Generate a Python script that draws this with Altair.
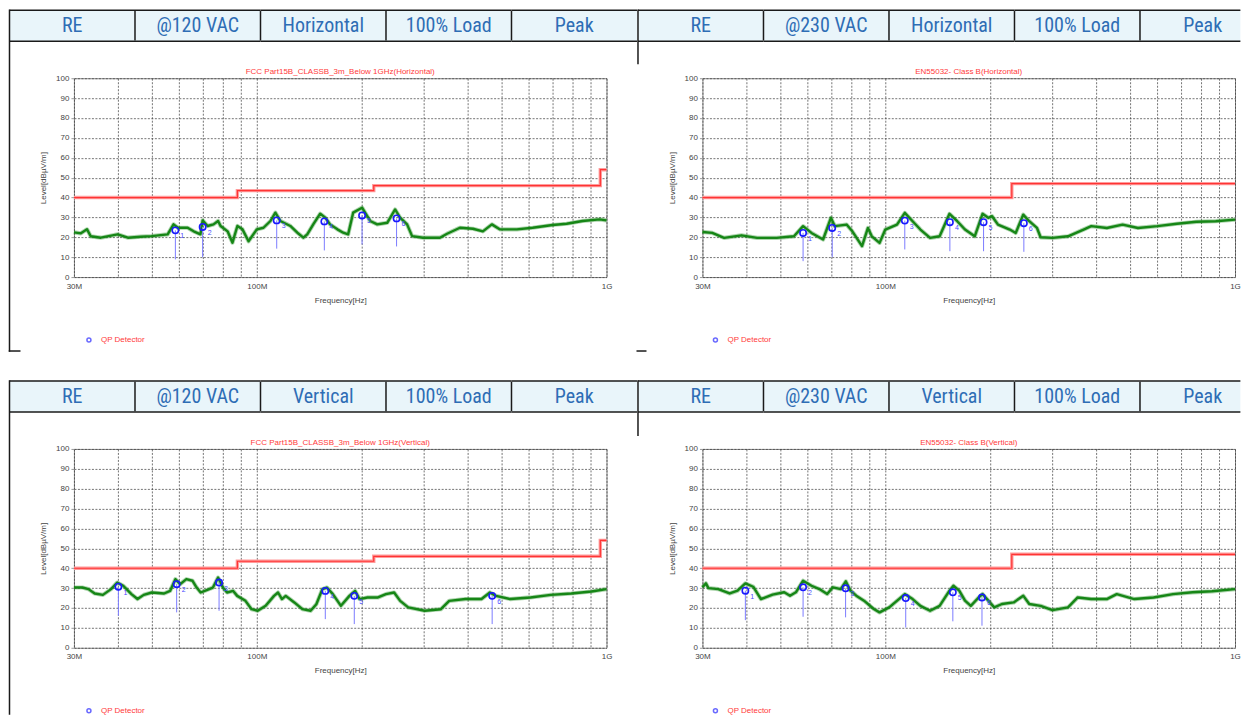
import altair as alt
import pandas as pd

# ---------------- text content ----------------
HDR_TL = ["RE", "@120 VAC", "Horizontal", "100% Load", "Peak"]
HDR_TR = ["RE", "@230 VAC", "Horizontal", "100% Load", "Peak"]
HDR_BL = ["RE", "@120 VAC", "Vertical", "100% Load", "Peak"]
HDR_BR = ["RE", "@230 VAC", "Vertical", "100% Load", "Peak"]

TITLE_TL = "FCC Part15B_CLASSB_3m_Below 1GHz(Horizontal)"
TITLE_TR = "EN55032- Class B(Horizontal)"
TITLE_BL = "FCC Part15B_CLASSB_3m_Below 1GHz(Vertical)"
TITLE_BR = "EN55032- Class B(Vertical)"

LEGEND_TEXT = "QP Detector"
X_TITLE = "Frequency[Hz]"
Y_TITLE = "Level[dBµV/m]"

X_TICKS = [30, 40, 50, 60, 70, 80, 90, 100, 200, 300, 400, 500, 600, 700, 800, 900, 1000]
Y_TICKS = [0, 10, 20, 30, 40, 50, 60, 70, 80, 90, 100]

# ---------------- limit lines (MHz, dBuV/m) ----------------
FCC_LIM_F = [30, 88, 216, 960, 1000]
FCC_LIM_L = [40, 43.5, 46, 54, 54]
EN_LIM_F = [30, 230, 1000]
EN_LIM_L = [40, 47, 47]

# ---------------- measured traces ----------------
TL_F = [30, 31.4, 32.7, 33.5, 35.8, 40, 42.8, 46.6, 50, 55.6, 57.8, 59.5, 63.4, 66, 69, 70, 72.3, 75.2,
        77.5, 78.8, 82.5, 85.2, 88, 91, 94.7, 100, 104.5, 109.4, 113, 116.8, 124.7, 130.6, 135.9, 139.4,
        145, 151.8, 157, 162, 170, 176.7, 182.5, 188.6, 200, 204, 211, 221, 236, 248.6, 256.8, 269, 278,
        298.7, 334, 350, 381, 415, 443, 470, 495, 554, 615, 701, 769, 854, 955, 1000]
TL_L = [22.5, 22, 24, 20.5, 19.8, 21.5, 19.8, 20.3, 20.6, 21.5, 26.5, 24.8, 24.8, 23, 21.5, 28.5, 25.7, 26.5,
        28.2, 25.7, 23, 17.3, 25.7, 24, 18, 24, 24.8, 28.2, 32.4, 28.2, 25.7, 22.3, 19.8, 21.5,
        26.5, 31.9, 29.9, 26.5, 24, 22.3, 21.5, 32.4, 34.9, 32.4, 28.2, 26.5, 27.3, 34, 29.9, 26.5, 20.6,
        19.8, 19.8, 21.8, 24.8, 24.3, 23, 26.5, 24, 24, 24.8, 26.2, 26.8, 28.2, 29, 28.5]

TR_F = [30, 32, 34.6, 38.8, 43, 48.9, 54.8, 58.2, 61.5, 66.4, 69.9, 71.7, 77.5, 80.5, 85.8, 89.2, 91.5, 96.3,
        100, 108, 113.7, 119.7, 126, 134.3, 143, 152.6, 160.6, 169, 180.2, 189.7, 197, 202, 210, 227, 236,
        248, 258, 271.5, 278, 300.7, 333, 369, 388, 430, 477, 528, 600, 682, 775, 881, 1000]
TR_L = [22.7, 22.2, 19.7, 21, 19.7, 19.7, 20.5, 25.6, 22.2, 18.9, 29.8, 25.6, 26.4, 23, 15.6, 24.7, 20.5, 17.2,
        23.9, 26.4, 32.3, 28.1, 23.9, 19.7, 20.5, 31.8, 28.1, 23.9, 20.5, 31.8, 29.8, 30.6, 26.4, 23.9, 22.2,
        31.4, 28.1, 24.7, 20, 19.7, 20.5, 23.9, 25.6, 24.7, 26.4, 24.7, 25.6, 26.8, 27.8, 28.1, 28.9]

BL_F = [30, 31.7, 33, 34.4, 36.3, 38.3, 39.9, 41.5, 43.8, 45.6, 47.5, 50.1, 54.3, 56.5, 58.5, 60.4, 62.9, 65.5,
        67.3, 69.1, 71.9, 74.9, 77.5, 80, 82.2, 85.6, 87.9, 92.8, 96.6, 100.6, 106, 112, 115, 118, 121, 128,
        135, 142.5, 148, 154, 158.6, 165, 174, 184, 191, 196.6, 207, 222, 234, 247, 257, 271, 302, 336, 355,
        395, 439, 464, 483, 530, 606, 693, 793, 906, 1000]
BL_L = [30.3, 30.3, 29.5, 27.3, 26.6, 29.5, 32.8, 31.2, 27, 24.5, 26.6, 27.8, 27.3, 28.6, 34.5, 32, 34.5, 33.7,
        30.3, 27.8, 29, 30.3, 35.3, 30.3, 27.8, 28.6, 26.1, 23.6, 19.4, 18.6, 21.1, 26.1, 27.8, 24.5, 26.1, 22.8,
        19.4, 18.6, 21.9, 29.5, 30.3, 27, 21.1, 26.1, 28.6, 24.5, 25.3, 25.3, 27, 27.8, 23.6, 20.3, 18.6, 19.4, 23.6,
        24.5, 24.5, 27.8, 26.1, 24.5, 25.3, 26.6, 27.3, 28.3, 29.5]

BR_F = [30, 30.7, 31.2, 33.3, 35.9, 37.8, 39.8, 41.9, 44.1, 47.6, 51.4, 53.4, 55.5, 58.2, 61.5, 64.8, 68.2, 70.8,
        74.6, 77.1, 79.5, 82.6, 86.9, 92.7, 96.3, 102.6, 109.4, 113.7, 119.7, 126, 134.3, 143, 152.6, 156.6,
        162.7, 169, 175.6, 184.9, 189.7, 197, 204.9, 215.6, 232.9, 248, 258, 278, 300.7, 333, 355, 388, 430,
        459, 515, 585, 665, 756, 859, 1000]
BR_L = [30.4, 32.4, 30, 29.5, 27.3, 28.7, 32.4, 30.7, 24.5, 26.7, 27.9, 26.2, 27.9, 33.7, 31.2, 29.5, 27, 30.4,
        29.5, 33.4, 28.7, 26.2, 23.7, 19.5, 17.8, 20.3, 24.5, 27, 24.5, 21.1, 18.6, 21.1, 28.7, 31.2,
        28.7, 23.7, 21.1, 25.3, 27, 23.7, 20.3, 22, 22.8, 26.2, 22, 21.1, 18.9, 20.3, 25.3, 24.5, 24.5,
        27, 24.5, 25.3, 27, 27.9, 28.4, 29.5]

# ---------------- QP detector markers ----------------
TL_MK_F = [58.5, 70, 114, 156, 200, 251]
TL_MK_L = [23.5, 25.2, 28.5, 28, 31, 29.5]
TL_MK_LOW = [8.9, 10, 14.3, 13.4, 16.4, 15.4]

TR_MK_F = [58.2, 70.5, 113.7, 153, 191, 249]
TR_MK_L = [22.2, 24.7, 28.4, 27.6, 27.6, 27.1]
TR_MK_LOW = [8, 10, 13.9, 13, 13, 12.7]

BL_MK_F = [40.2, 59, 78, 157, 190, 471]
BL_MK_L = [30.7, 32, 32.8, 28.6, 26.1, 26.1]
BL_MK_LOW = [16.1, 17.8, 18.6, 14.4, 11.9, 11.9]

BR_MK_F = [39.8, 58.2, 77, 114.4, 156, 189]
BR_MK_L = [28.7, 30.4, 29.9, 25, 27.9, 25.3]
BR_MK_LOW = [13.9, 15.6, 15.3, 10.2, 13.3, 11.1]

# ---------------- layout / style ----------------
W, H = 533, 199
HX0 = -64.5        # header left edge relative to plot area
CELL = 125.6       # header cell width
HY0, HY1 = -68, -37
LW = 1.5           # border line width
HDR_FILL = "#E9F5FA"
HDR_TEXT = "#2E6DB5"
HDR_FONT = "Liberation Sans Narrow, Roboto Condensed, Roboto"
LINE = "#1a1a1a"
GREEN = "#168616"
FONT = "Liberation Sans"

dummy = pd.DataFrame({"a": [0]})


def vbar(xc, y1, y2):
    # thin vertical border drawn as a filled rect (exact bounds)
    return alt.Chart(dummy).mark_rect(fill=LINE, strokeWidth=0).encode(
        x=alt.value(xc - LW / 2), x2=alt.value(xc + LW / 2), y=alt.value(y1), y2=alt.value(y2))


def hbar(yc, x1, x2):
    return alt.Chart(dummy).mark_rect(fill=LINE, strokeWidth=0).encode(
        x=alt.value(x1), x2=alt.value(x2), y=alt.value(yc - LW / 2), y2=alt.value(yc + LW / 2))


def quadrant(hdr, title, tf, tl, lf, ll, mf, ml, mlow, right_clip, decor, legend_x):
    # header table (the right-hand table runs off the page edge, so its scale is clamped there)
    cells = pd.DataFrame({"u": [0, 1, 2, 3, 4], "label": hdr})
    cells["u2"] = cells["u"] + 1
    cells["um"] = cells["u"] + 0.5
    umax = 4.80 if right_clip else 5
    hx = alt.Scale(domain=[0, umax], range=[HX0, HX0 + CELL * umax], clamp=True)
    xu = alt.X("u:Q", scale=hx, axis=None)
    base = alt.Chart(cells)
    fill = base.mark_rect(fill=HDR_FILL, strokeWidth=0).encode(
        x=xu, x2="u2:Q", y=alt.value(HY0), y2=alt.value(HY1))
    seps = base.transform_filter("datum.u > 0").mark_rule(color=LINE, strokeWidth=LW).encode(
        x=xu, y=alt.value(HY0 + LW / 2), y2=alt.value(HY1 - LW / 2))
    top = base.mark_rect(fill=LINE, strokeWidth=0).encode(
        x=xu, x2="u2:Q", y=alt.value(HY0 - LW / 2), y2=alt.value(HY0 + LW / 2))
    bot = base.mark_rect(fill=LINE, strokeWidth=0).encode(
        x=xu, x2="u2:Q", y=alt.value(HY1 - LW / 2), y2=alt.value(HY1 + LW / 2))
    txt = base.mark_text(font=HDR_FONT, fontSize=20, color=HDR_TEXT, baseline="middle").encode(
        x=alt.X("um:Q", scale=hx, axis=None), y=alt.value((HY0 + HY1) / 2 + 0.5), text="label:N")
    header = alt.layer(fill, seps, top, bot, txt)

    # plot
    xs = alt.Scale(type="log", domain=[30, 1000], nice=False)
    ys = alt.Scale(domain=[0, 100], nice=False)
    xaxis = alt.Axis(
        orient="bottom", values=X_TICKS,
        labelExpr="datum.value == 30 ? '30M' : datum.value == 100 ? '100M' : datum.value == 1000 ? '1G' : ''",
        labelFont=FONT, labelFontSize=8, labelColor="#444", labelPadding=5,
        labelFlush=False, labelOverlap=False, labelBound=False,
        ticks=False, domain=False, grid=True, gridColor="#3a3a3a", gridDash=[2, 1.5], gridWidth=0.7,
        title=X_TITLE, titleFont=FONT, titleFontSize=8, titleFontWeight="normal", titleColor="#444",
        titleX=W / 2, titleY=23, titleBaseline="middle")
    yaxis = alt.Axis(
        orient="left", values=Y_TICKS,
        labelFont=FONT, labelFontSize=8, labelColor="#444", labelPadding=2,
        tickSize=3, tickColor="#999", domain=False,
        grid=True, gridColor="#3a3a3a", gridDash=[2, 1.5], gridWidth=0.7,
        title=Y_TITLE, titleFont=FONT, titleFontSize=8, titleFontWeight="normal", titleColor="#444",
        titleX=-30, titleY=H / 2, titleAngle=270, titleAlign="center", titleBaseline="middle")
    X = alt.X("f:Q", scale=xs, axis=xaxis)
    Y = alt.Y("lv:Q", scale=ys, axis=yaxis)

    tdf = pd.DataFrame({"f": tf, "lv": tl})
    ldf = pd.DataFrame({"f": lf, "lv": ll})
    mdf = pd.DataFrame({"f": mf, "lv": ml, "low": mlow,
                        "n": [str(i + 1) for i in range(len(mf))]})

    lim_glow = alt.Chart(ldf).mark_line(interpolate="step-after", color="#ff9c9c", strokeWidth=3.4).encode(X, Y)
    lim = alt.Chart(ldf).mark_line(interpolate="step-after", color="#ff3434", strokeWidth=1.2).encode(X, Y)
    trace_halo = alt.Chart(tdf).mark_line(color=GREEN, strokeWidth=4.2, opacity=0.35,
                                          strokeJoin="round").encode(X, Y)
    trace = alt.Chart(tdf).mark_line(color=GREEN, strokeWidth=2.4, strokeJoin="round").encode(X, Y)
    mrule = alt.Chart(mdf).mark_rule(color="#7b7bff", strokeWidth=1).encode(X, Y, y2="low:Q")
    mpt = alt.Chart(mdf).mark_point(shape="circle", filled=False, size=40, color="#1a1aff",
                                    strokeWidth=1.6, opacity=1).encode(X, Y)
    mtxt = alt.Chart(mdf).mark_text(dx=5, dy=6, fontSize=7, color="#4a4aff", align="left",
                                    font=FONT).encode(X, Y, text="n:N")
    plot = alt.layer(lim_glow, lim, trace_halo, trace, mrule, mpt, mtxt)

    tdf_title = pd.DataFrame({"t": [title]})
    ptitle = alt.Chart(tdf_title).mark_text(font=FONT, fontSize=8, color="#ff3a3a", baseline="middle").encode(
        x=alt.value(W / 2), y=alt.value(-6), text="t:N")
    leg_df = pd.DataFrame({"t": [LEGEND_TEXT]})
    leg_pt = alt.Chart(leg_df).mark_point(shape="circle", filled=False, size=16, color="#2a2aff",
                                          strokeWidth=1.5).encode(x=alt.value(legend_x), y=alt.value(262))
    leg_txt = alt.Chart(leg_df).mark_text(font=FONT, fontSize=8, color="#ff3a3a", align="left",
                                          baseline="middle").encode(
        x=alt.value(legend_x + 12), y=alt.value(262), text="t:N")

    parts = [header] + decor + [ptitle, leg_pt, leg_txt, plot]
    return alt.layer(*parts).resolve_scale(x="independent", y="independent").properties(width=W, height=H)


EDGE = HX0          # left edge of each quadrant's header
TOP = HY0 - LW / 2

q_tl = quadrant(HDR_TL, TITLE_TL, TL_F, TL_L, FCC_LIM_F, FCC_LIM_L, TL_MK_F, TL_MK_L, TL_MK_LOW, False,
                [vbar(EDGE, TOP, 273.75), hbar(273, EDGE - LW / 2, EDGE + 11), hbar(273, 563, 573)], 15)
q_tr = quadrant(HDR_TR, TITLE_TR, TR_F, TR_L, EN_LIM_F, EN_LIM_L, TR_MK_F, TR_MK_L, TR_MK_LOW, True,
                [vbar(EDGE, TOP, -14)], 13)
q_bl = quadrant(HDR_BL, TITLE_BL, BL_F, BL_L, FCC_LIM_F, FCC_LIM_L, BL_MK_F, BL_MK_L, BL_MK_LOW, False,
                [vbar(EDGE, TOP, 266)], 15)
q_br = quadrant(HDR_BR, TITLE_BR, BR_F, BR_L, EN_LIM_F, EN_LIM_L, BR_MK_F, BR_MK_L, BR_MK_LOW, True,
                [vbar(EDGE, TOP, -13)], 13)

chart = alt.concat(
    q_tl, q_tr, q_bl, q_br,
    columns=2, spacing={"row": 172, "column": 96}, bounds="flush", padding=0,
).configure(font=FONT).configure_view(stroke="#8a8a8a", strokeWidth=1)

chart.save("out.html", embed_options={"renderer": "svg", "actions": False})
